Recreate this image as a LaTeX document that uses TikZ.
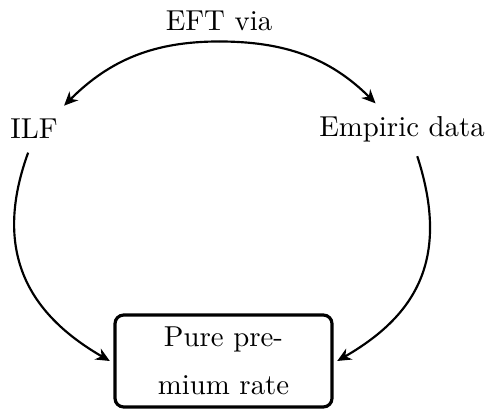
\documentclass[tikz,border=0pt]{standalone}
\usetikzlibrary{arrows.meta}
\begin{document}
\begin{tikzpicture}[
    x=0.347pt, y=-0.347pt,
    label/.style={inner sep=3.33pt, outer sep=1.4pt},
    ratebox/.style={draw, line width=1.1pt, rounded corners=3pt,
        minimum width=75.3pt, minimum height=31.9pt, inner sep=0pt,
        outer sep=1.8pt, align=center,
        font=\fontsize{10pt}{16.8pt}\selectfont},
    flow/.style={line width=0.75pt,
        -{Stealth[length=4.8pt,width=4.3pt,inset=1.5pt]}}
]
\useasboundingbox (0,0) rectangle (486,409);

% labels around the cycle
\node[inner sep=3.33pt, anchor=base] (eft) at (219,31) {EFT via};
\node[label, anchor=base] (ilf) at (34,139) {ILF};
\node[label, anchor=base] (emp) at (402,137) {Empiric data};
\node[ratebox] (rate) at (223.5,361) {Pure pre-\\mium rate};

% upper arc splitting towards both sources
\draw[flow] (eft.south) .. controls +(180:22.5pt) and +(45:22.5pt) .. (ilf.38);
\draw[flow] (eft.south) .. controls +(0:22.5pt) and +(135:22.5pt) .. (emp.135);

% lower arcs into the rate box
\draw[flow] (ilf.-104) .. controls +(-110:38pt) and +(150:31pt) .. (rate.west);
\draw[flow] (emp.-60) .. controls +(-72:38pt) and +(30:31pt) .. (rate.east);
\end{tikzpicture}
\end{document}
